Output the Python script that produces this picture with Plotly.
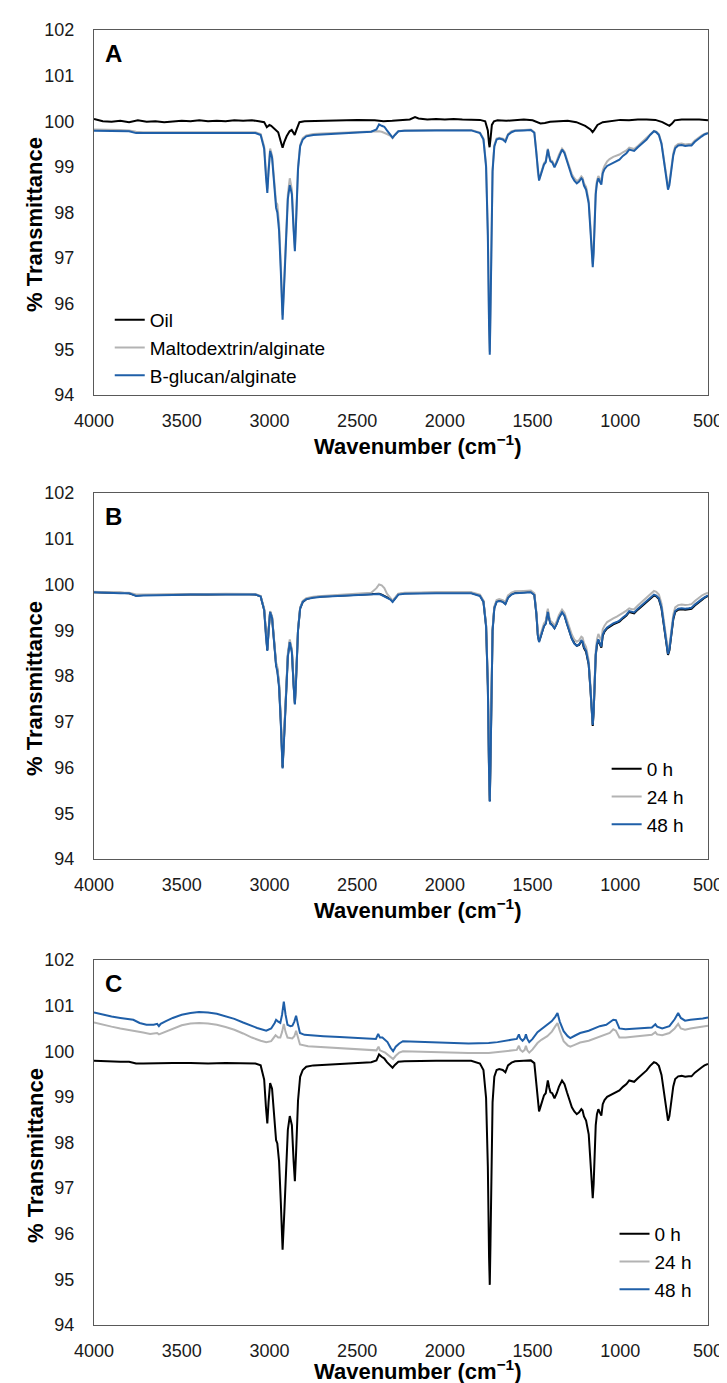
import plotly.graph_objects as go

# ---------------- data ----------------
# shared wavenumber grid (cm-1) for the emulsion spectra
wn_grid = [
    4000, 3950, 3900, 3850, 3800, 3760, 3720, 3650, 3550, 3450,
    3350, 3250, 3150, 3080, 3050, 3030, 3020, 3012, 3005, 2996,
    2985, 2970, 2962, 2955, 2945, 2935, 2925, 2915, 2905, 2895,
    2884, 2872, 2862, 2855, 2848, 2837, 2825, 2810, 2790, 2750,
    2700, 2600, 2500, 2420, 2390, 2375, 2360, 2345, 2330, 2310,
    2298, 2285, 2265, 2230, 2150, 2050, 1950, 1850, 1800, 1780,
    1765, 1755, 1748, 1744, 1740, 1735, 1728, 1718, 1705, 1690,
    1670, 1655, 1640, 1620, 1600, 1550, 1510, 1490, 1478, 1470,
    1463, 1455, 1445, 1435, 1425, 1413, 1405, 1398, 1388, 1375,
    1362, 1350, 1332, 1318, 1304, 1290, 1276, 1262, 1248, 1235,
    1222, 1215, 1207, 1195, 1180, 1170, 1163, 1157, 1152, 1146,
    1140, 1133, 1125, 1117, 1108, 1100, 1090, 1075, 1061, 1040,
    1020, 1005, 985, 965, 949, 935, 921, 900, 874, 850,
    830, 808, 795, 780, 765, 750, 738, 728, 720, 710,
    698, 687, 670, 650, 630, 610, 594, 575, 555, 535,
    520, 500,
]

# Panel A
a_oil = [
    (4000, 100.05), (3950, 100.0), (3900, 99.99), (3850, 100.01), (3800, 99.98),
    (3750, 100.02), (3700, 99.99), (3650, 100.0), (3600, 99.98), (3550, 100.0),
    (3500, 100.01), (3450, 100.0), (3400, 100.02), (3350, 100.0), (3300, 100.01),
    (3250, 100.0), (3200, 100.02), (3150, 100.01), (3100, 100.02), (3060, 100.0),
    (3030, 99.98), (3015, 99.87), (3000, 99.92), (2990, 99.9), (2970, 99.82),
    (2950, 99.76), (2935, 99.55), (2925, 99.42), (2915, 99.55), (2902, 99.67),
    (2885, 99.78), (2873, 99.81), (2862, 99.74), (2856, 99.7), (2845, 99.82),
    (2829, 99.98), (2800, 100.0), (2700, 100.01), (2600, 100.02), (2500, 100.03),
    (2400, 100.02), (2350, 100.0), (2300, 100.01), (2250, 100.02), (2200, 100.04),
    (2170, 100.09), (2150, 100.06), (2100, 100.04), (2050, 100.05), (2000, 100.04),
    (1950, 100.05), (1900, 100.04), (1850, 100.04), (1800, 100.03), (1770, 100.0),
    (1755, 99.8), (1748, 99.5), (1745, 99.43), (1740, 99.6), (1732, 99.92),
    (1720, 100.0), (1700, 100.02), (1650, 100.01), (1600, 100.03), (1550, 100.04),
    (1500, 100.02), (1470, 99.97), (1455, 99.95), (1430, 99.96), (1400, 99.99),
    (1350, 100.0), (1300, 100.01), (1250, 99.98), (1200, 99.9), (1170, 99.82),
    (1158, 99.76), (1150, 99.8), (1130, 99.92), (1100, 99.98), (1050, 100.0),
    (1000, 100.03), (950, 100.02), (900, 100.04), (850, 100.04), (800, 100.03),
    (760, 99.98), (735, 99.93), (720, 99.9), (705, 99.95), (690, 100.02),
    (650, 100.04), (600, 100.04), (550, 100.04), (500, 100.02),
]
a_malto = [
    99.82, 99.82, 99.81, 99.81, 99.80, 99.77, 99.76, 99.76, 99.77, 99.76,
    99.76, 99.77, 99.77, 99.76, 99.72, 99.45, 98.90, 98.52, 98.95, 99.40,
    99.25, 98.50, 98.22, 98.18, 97.75, 96.85, 95.75, 96.60, 97.70, 98.40,
    98.75, 98.50, 97.70, 97.22, 97.85, 99.00, 99.48, 99.63, 99.69, 99.72,
    99.73, 99.75, 99.77, 99.78, 99.78, 99.78, 99.77, 99.75, 99.72, 99.68,
    99.63, 99.70, 99.78, 99.80, 99.81, 99.81, 99.81, 99.81, 99.75, 99.62,
    99.05, 97.60, 95.60, 94.95, 95.90, 97.70, 98.95, 99.48, 99.62, 99.64,
    99.62, 99.58, 99.72, 99.78, 99.80, 99.81, 99.82, 99.76, 99.33, 98.88,
    98.73, 98.83, 98.98, 99.08, 99.13, 99.40, 99.25, 99.15, 99.13, 99.02,
    99.13, 99.26, 99.40, 99.33, 99.16, 99.00, 98.84, 98.75, 98.69, 98.72,
    98.79, 98.76, 98.64, 98.56, 98.26, 97.68, 97.08, 96.88, 97.18, 97.98,
    98.48, 98.70, 98.80, 98.74, 98.68, 98.92, 99.02, 99.12, 99.17, 99.22,
    99.25, 99.27, 99.32, 99.36, 99.42, 99.40, 99.39, 99.46, 99.55, 99.63,
    99.72, 99.79, 99.77, 99.72, 99.53, 99.15, 98.76, 98.56, 98.66, 99.00,
    99.30, 99.45, 99.50, 99.51, 99.49, 99.50, 99.50, 99.58, 99.64, 99.69,
    99.72, 99.75,
]
a_bglucan = [
    99.79, 99.79, 99.78, 99.78, 99.78, 99.74, 99.74, 99.74, 99.75, 99.74,
    99.74, 99.75, 99.75, 99.74, 99.70, 99.40, 98.80, 98.43, 98.90, 99.35,
    99.20, 98.40, 98.10, 98.00, 97.60, 96.70, 95.65, 96.50, 97.60, 98.30,
    98.60, 98.40, 97.60, 97.15, 97.80, 98.95, 99.45, 99.60, 99.67, 99.70,
    99.71, 99.73, 99.75, 99.77, 99.82, 99.93, 99.90, 99.88, 99.80, 99.70,
    99.64, 99.70, 99.78, 99.79, 99.80, 99.80, 99.80, 99.80, 99.74, 99.60,
    99.00, 97.50, 95.50, 94.88, 95.80, 97.60, 98.90, 99.45, 99.60, 99.62,
    99.60, 99.55, 99.70, 99.76, 99.79, 99.80, 99.81, 99.75, 99.30, 98.85,
    98.70, 98.80, 98.95, 99.05, 99.10, 99.38, 99.22, 99.12, 99.10, 98.99,
    99.10, 99.23, 99.38, 99.30, 99.12, 98.95, 98.79, 98.70, 98.64, 98.68,
    98.75, 98.72, 98.59, 98.50, 98.20, 97.60, 97.00, 96.80, 97.10, 97.90,
    98.40, 98.64, 98.75, 98.68, 98.61, 98.86, 98.95, 99.02, 99.05, 99.10,
    99.13, 99.16, 99.24, 99.30, 99.38, 99.36, 99.35, 99.43, 99.52, 99.60,
    99.70, 99.78, 99.76, 99.70, 99.50, 99.10, 98.70, 98.50, 98.60, 98.95,
    99.25, 99.41, 99.47, 99.48, 99.46, 99.47, 99.47, 99.55, 99.62, 99.67,
    99.71, 99.74,
]

# Panel B
b_0h = [
    99.83, 99.82, 99.82, 99.82, 99.81, 99.76, 99.77, 99.77, 99.78, 99.78,
    99.78, 99.79, 99.79, 99.78, 99.74, 99.45, 98.90, 98.57, 98.98, 99.40,
    99.28, 98.55, 98.25, 98.15, 97.80, 97.00, 96.00, 96.80, 97.80, 98.45,
    98.75, 98.55, 97.80, 97.40, 97.95, 99.00, 99.48, 99.62, 99.68, 99.72,
    99.74, 99.76, 99.78, 99.79, 99.80, 99.80, 99.78, 99.75, 99.72, 99.68,
    99.63, 99.70, 99.79, 99.81, 99.82, 99.82, 99.82, 99.82, 99.76, 99.63,
    99.10, 97.80, 95.90, 95.27, 96.10, 97.80, 99.00, 99.50, 99.63, 99.65,
    99.63, 99.58, 99.72, 99.79, 99.82, 99.83, 99.84, 99.78, 99.35, 98.90,
    98.76, 98.85, 99.00, 99.10, 99.15, 99.42, 99.25, 99.15, 99.12, 99.05,
    99.15, 99.28, 99.40, 99.33, 99.15, 98.98, 98.82, 98.72, 98.66, 98.68,
    98.76, 98.74, 98.61, 98.53, 98.25, 97.70, 97.10, 96.91, 97.20, 97.98,
    98.45, 98.68, 98.78, 98.70, 98.62, 98.88, 98.97, 99.04, 99.08, 99.13,
    99.16, 99.19, 99.26, 99.32, 99.40, 99.38, 99.37, 99.45, 99.54, 99.62,
    99.70, 99.76, 99.74, 99.68, 99.48, 99.08, 98.68, 98.46, 98.56, 98.92,
    99.24, 99.40, 99.45, 99.46, 99.45, 99.46, 99.47, 99.54, 99.61, 99.66,
    99.71, 99.75,
]
b_24h = [
    99.84, 99.83, 99.83, 99.82, 99.82, 99.78, 99.78, 99.78, 99.79, 99.79,
    99.79, 99.80, 99.80, 99.79, 99.75, 99.47, 98.92, 98.60, 99.00, 99.42,
    99.30, 98.58, 98.30, 98.20, 97.85, 97.05, 96.05, 96.85, 97.85, 98.50,
    98.80, 98.58, 97.83, 97.43, 97.98, 99.02, 99.50, 99.64, 99.70, 99.73,
    99.75, 99.77, 99.79, 99.82, 99.92, 100.00, 99.98, 99.92, 99.80, 99.70,
    99.65, 99.71, 99.80, 99.82, 99.83, 99.83, 99.83, 99.83, 99.78, 99.65,
    99.12, 97.85, 95.95, 95.30, 96.15, 97.85, 99.03, 99.52, 99.66, 99.68,
    99.66, 99.62, 99.76, 99.82, 99.85, 99.86, 99.87, 99.81, 99.40, 98.95,
    98.80, 98.90, 99.05, 99.15, 99.20, 99.47, 99.30, 99.20, 99.17, 99.10,
    99.20, 99.33, 99.45, 99.38, 99.22, 99.05, 98.90, 98.80, 98.75, 98.78,
    98.86, 98.84, 98.72, 98.63, 98.34, 97.78, 97.18, 96.98, 97.30, 98.08,
    98.55, 98.80, 98.92, 98.85, 98.78, 99.02, 99.10, 99.18, 99.22, 99.26,
    99.30, 99.33, 99.38, 99.43, 99.48, 99.46, 99.46, 99.54, 99.63, 99.71,
    99.79, 99.86, 99.84, 99.78, 99.58, 99.18, 98.78, 98.56, 98.66, 99.02,
    99.34, 99.50, 99.55, 99.56, 99.55, 99.56, 99.57, 99.64, 99.71, 99.76,
    99.79, 99.82,
]
b_48h = [
    99.83, 99.82, 99.81, 99.81, 99.81, 99.75, 99.76, 99.76, 99.77, 99.78,
    99.78, 99.79, 99.79, 99.78, 99.74, 99.44, 98.88, 98.55, 98.97, 99.40,
    99.27, 98.52, 98.22, 98.10, 97.75, 96.95, 95.98, 96.75, 97.75, 98.42,
    98.74, 98.52, 97.78, 97.38, 97.92, 99.00, 99.47, 99.62, 99.68, 99.71,
    99.73, 99.75, 99.77, 99.78, 99.79, 99.79, 99.77, 99.74, 99.71, 99.67,
    99.62, 99.69, 99.78, 99.80, 99.81, 99.81, 99.81, 99.81, 99.75, 99.62,
    99.08, 97.78, 95.88, 95.25, 96.05, 97.75, 98.98, 99.48, 99.62, 99.64,
    99.62, 99.57, 99.71, 99.78, 99.81, 99.82, 99.83, 99.77, 99.34, 98.88,
    98.74, 98.84, 98.99, 99.09, 99.14, 99.40, 99.24, 99.14, 99.11, 99.04,
    99.14, 99.27, 99.39, 99.32, 99.14, 98.97, 98.81, 98.71, 98.66, 98.69,
    98.77, 98.75, 98.63, 98.55, 98.26, 97.72, 97.12, 96.93, 97.22, 98.00,
    98.47, 98.70, 98.80, 98.72, 98.64, 98.90, 98.99, 99.06, 99.10, 99.15,
    99.18, 99.21, 99.28, 99.34, 99.42, 99.40, 99.39, 99.47, 99.56, 99.64,
    99.72, 99.78, 99.76, 99.70, 99.50, 99.10, 98.70, 98.48, 98.58, 98.94,
    99.26, 99.42, 99.47, 99.48, 99.47, 99.48, 99.49, 99.56, 99.63, 99.68,
    99.72, 99.76,
]

# Panel C
c_0h = [
    99.79, 99.78, 99.78, 99.77, 99.77, 99.73, 99.73, 99.74, 99.74, 99.74,
    99.73, 99.74, 99.74, 99.73, 99.69, 99.38, 98.78, 98.42, 98.88, 99.30,
    99.18, 98.38, 98.05, 97.98, 97.58, 96.68, 95.65, 96.48, 97.58, 98.28,
    98.58, 98.38, 97.58, 97.15, 97.78, 98.92, 99.44, 99.59, 99.66, 99.69,
    99.70, 99.72, 99.74, 99.76, 99.80, 99.93, 99.88, 99.84, 99.76, 99.68,
    99.64, 99.70, 99.77, 99.78, 99.79, 99.79, 99.79, 99.79, 99.73, 99.59,
    98.98, 97.48, 95.48, 94.88, 95.78, 97.58, 98.88, 99.44, 99.59, 99.61,
    99.59, 99.54, 99.69, 99.75, 99.78, 99.79, 99.80, 99.74, 99.28, 98.83,
    98.68, 98.78, 98.93, 99.03, 99.08, 99.36, 99.20, 99.10, 99.08, 98.97,
    99.08, 99.22, 99.36, 99.28, 99.10, 98.93, 98.77, 98.68, 98.62, 98.66,
    98.73, 98.70, 98.57, 98.48, 98.18, 97.58, 96.98, 96.78, 97.08, 97.88,
    98.38, 98.62, 98.73, 98.66, 98.59, 98.84, 98.93, 99.00, 99.03, 99.08,
    99.11, 99.14, 99.22, 99.28, 99.36, 99.34, 99.33, 99.41, 99.50, 99.58,
    99.68, 99.76, 99.74, 99.68, 99.48, 99.08, 98.68, 98.48, 98.58, 98.93,
    99.23, 99.39, 99.45, 99.46, 99.44, 99.45, 99.45, 99.53, 99.60, 99.65,
    99.69, 99.72,
]
c_24h = [
    (4000, 100.63), (3950, 100.58), (3900, 100.54), (3850, 100.50), (3800, 100.47),
    (3760, 100.45), (3720, 100.41), (3680, 100.38), (3640, 100.40), (3630, 100.37),
    (3600, 100.42), (3550, 100.50), (3500, 100.57), (3450, 100.61), (3400, 100.62),
    (3350, 100.61), (3300, 100.58), (3250, 100.53), (3200, 100.47), (3150, 100.39),
    (3100, 100.30), (3050, 100.23), (3018, 100.20), (2990, 100.22), (2965, 100.35),
    (2950, 100.30), (2938, 100.30), (2928, 100.42), (2918, 100.60), (2908, 100.42),
    (2897, 100.30), (2870, 100.28), (2858, 100.33), (2848, 100.45), (2838, 100.30),
    (2826, 100.15), (2780, 100.11), (2700, 100.09), (2600, 100.07), (2500, 100.05),
    (2420, 100.03), (2390, 100.02), (2378, 100.10), (2370, 100.02), (2340, 99.97),
    (2310, 99.88), (2295, 99.83), (2280, 99.90), (2260, 99.97), (2239, 100.00),
    (2150, 99.99), (2050, 99.98), (1950, 99.96), (1865, 99.96), (1750, 99.96),
    (1700, 99.98), (1622, 100.02), (1590, 100.03), (1578, 100.12), (1570, 100.03),
    (1557, 99.99), (1545, 100.03), (1538, 100.12), (1530, 100.02), (1519, 99.97),
    (1500, 100.04), (1472, 100.18), (1450, 100.25), (1416, 100.33), (1390, 100.43),
    (1370, 100.55), (1358, 100.62), (1345, 100.45), (1323, 100.22), (1300, 100.13),
    (1285, 100.10), (1260, 100.14), (1229, 100.19), (1180, 100.23), (1117, 100.32),
    (1080, 100.36), (1060, 100.40), (1040, 100.48), (1025, 100.45), (1005, 100.30),
    (970, 100.30), (930, 100.32), (870, 100.34), (820, 100.36), (800, 100.42),
    (790, 100.37), (761, 100.35), (720, 100.40), (690, 100.50), (670, 100.60),
    (655, 100.50), (631, 100.47), (600, 100.50), (560, 100.53), (530, 100.55),
    (500, 100.56),
]
c_48h = [
    (4000, 100.85), (3950, 100.80), (3900, 100.76), (3850, 100.73), (3800, 100.71),
    (3776, 100.69), (3740, 100.62), (3701, 100.58), (3660, 100.58), (3640, 100.60),
    (3630, 100.55), (3620, 100.60), (3590, 100.66), (3551, 100.73), (3500, 100.80),
    (3450, 100.84), (3402, 100.86), (3350, 100.85), (3300, 100.82), (3252, 100.77),
    (3200, 100.71), (3150, 100.63), (3121, 100.58), (3070, 100.51), (3018, 100.45),
    (2990, 100.50), (2970, 100.62), (2962, 100.69), (2950, 100.65), (2938, 100.62),
    (2928, 100.80), (2918, 101.09), (2908, 100.80), (2897, 100.58), (2880, 100.55),
    (2869, 100.56), (2858, 100.65), (2848, 100.78), (2838, 100.60), (2826, 100.40),
    (2800, 100.36), (2750, 100.34), (2692, 100.33), (2600, 100.31), (2500, 100.29),
    (2420, 100.27), (2393, 100.27), (2380, 100.38), (2370, 100.30), (2356, 100.30),
    (2327, 100.20), (2310, 100.08), (2295, 100.00), (2280, 100.10), (2260, 100.17),
    (2239, 100.22), (2150, 100.21), (2050, 100.20), (1950, 100.18), (1865, 100.17),
    (1750, 100.18), (1700, 100.20), (1622, 100.25), (1590, 100.27), (1578, 100.37),
    (1570, 100.28), (1557, 100.23), (1545, 100.28), (1538, 100.37), (1530, 100.27),
    (1519, 100.20), (1500, 100.27), (1472, 100.42), (1450, 100.48), (1416, 100.57),
    (1390, 100.66), (1370, 100.76), (1358, 100.84), (1345, 100.65), (1323, 100.44),
    (1300, 100.33), (1285, 100.29), (1260, 100.34), (1229, 100.40), (1180, 100.45),
    (1117, 100.55), (1080, 100.58), (1060, 100.63), (1040, 100.69), (1025, 100.68),
    (1005, 100.50), (970, 100.48), (930, 100.49), (870, 100.50), (820, 100.52),
    (800, 100.59), (790, 100.54), (761, 100.50), (720, 100.55), (690, 100.70),
    (670, 100.84), (655, 100.73), (631, 100.67), (600, 100.69), (560, 100.70),
    (530, 100.72), (500, 100.74),
]

x_ticks = [4000, 3500, 3000, 2500, 2000, 1500, 1000, 500]
y_ticks = [94, 95, 96, 97, 98, 99, 100, 101, 102]

for s in (a_malto, a_bglucan, b_0h, b_24h, b_48h, c_0h):
    assert len(s) == len(wn_grid), len(s)

# ---------------- styling ----------------
BLACK = "#000000"
GRAY = "#b3b3b3"
BLUE = "#1f5fa8"
FONT = "Liberation Sans, Arial, sans-serif"
LW = 2

W, H = 727, 1383
ML, MR, MT, MB = 86, 17, 22, 66
PW, PH = W - ML - MR, H - MT - MB


def px(xp):
    return (xp - ML) / PW


def py(yp):
    return (H - MB - yp) / PH


domains = [
    [py(387), py(22)],
    [py(851), py(485)],
    [py(1317), py(952)],
]

fig = go.Figure()


def add(series, name, color, idx, legend):
    if isinstance(series[0], tuple):
        xs = [p[0] for p in series]
        ys = [p[1] for p in series]
    else:
        xs, ys = wn_grid, series
    sfx = "" if idx == 1 else str(idx)
    fig.add_trace(go.Scatter(
        x=xs, y=ys, mode="lines", name=name,
        line=dict(color=color, width=LW),
        xaxis="x" + sfx, yaxis="y" + sfx,
        legend=legend, legendgroup=f"{legend}-{name}",
    ))


add(a_oil, "Oil", BLACK, 1, "legend")
add(a_malto, "Maltodextrin/alginate", GRAY, 1, "legend")
add(a_bglucan, "B-glucan/alginate", BLUE, 1, "legend")
add(b_0h, "0 h", BLACK, 2, "legend2")
add(b_24h, "24 h", GRAY, 2, "legend2")
add(b_48h, "48 h", BLUE, 2, "legend2")
add(c_0h, "0 h", BLACK, 3, "legend3")
add(c_24h, "24 h", GRAY, 3, "legend3")
add(c_48h, "48 h", BLUE, 3, "legend3")

axis_common = dict(
    showgrid=False, zeroline=False, showline=True, mirror=True,
    linecolor="#595959", linewidth=1.3, ticks="",
    tickfont=dict(family=FONT, size=18, color="#1a1a1a"),
)

layout = dict(
    width=W, height=H,
    margin=dict(l=ML, r=MR, t=MT, b=MB),
    paper_bgcolor="white", plot_bgcolor="white",
    font=dict(family=FONT, color="#000"),
    showlegend=True,
)

for i, dom in enumerate(domains, start=1):
    sfx = "" if i == 1 else str(i)
    layout["xaxis" + sfx] = dict(
        axis_common, domain=[0, 1], anchor="y" + sfx,
        range=[4000, 500], tickmode="array", tickvals=x_ticks,
        ticktext=[str(v) for v in x_ticks], ticklabelstandoff=9,
    )
    layout["yaxis" + sfx] = dict(
        axis_common, domain=dom, anchor="x" + sfx,
        range=[94, 102], tickmode="array", tickvals=y_ticks,
        ticktext=[str(v) for v in y_ticks], ticklabelstandoff=15,
    )

leg_common = dict(
    bgcolor="rgba(0,0,0,0)", borderwidth=0, itemwidth=30,
    font=dict(family=FONT, size=19, color="#000"),
    xanchor="left", yanchor="top", traceorder="normal",
)
layout["legend"] = dict(leg_common, x=px(102), y=py(293), tracegroupgap=0)
layout["legend2"] = dict(leg_common, x=px(607), y=py(742), tracegroupgap=3)
layout["legend3"] = dict(leg_common, x=px(615), y=py(1207), tracegroupgap=3)

annotations = []
for letter, ytop in (("A", 22), ("B", 485), ("C", 952)):
    annotations.append(dict(
        text=f"<b>{letter}</b>", xref="paper", yref="paper",
        x=px(106), y=py(ytop + 23), xanchor="center", yanchor="middle",
        showarrow=False, font=dict(family=FONT, size=24, color="#000"),
    ))
for yc in (216, 680, 1147):
    annotations.append(dict(
        text="<b>% Transmittance</b>", xref="paper", yref="paper",
        x=px(26), y=py(yc), xanchor="center", yanchor="middle",
        textangle=-90, showarrow=False,
        font=dict(family=FONT, size=22, color="#000"),
    ))
for yc in (437, 901, 1362):
    annotations.append(dict(
        text="<b>Wavenumber (cm<sup>−1</sup>)</b>", xref="paper", yref="paper",
        x=px(415), y=py(yc), xanchor="center", yanchor="middle",
        showarrow=False, font=dict(family=FONT, size=22, color="#000"),
    ))
layout["annotations"] = annotations

fig.update_layout(layout)
fig.write_html("out.html")
